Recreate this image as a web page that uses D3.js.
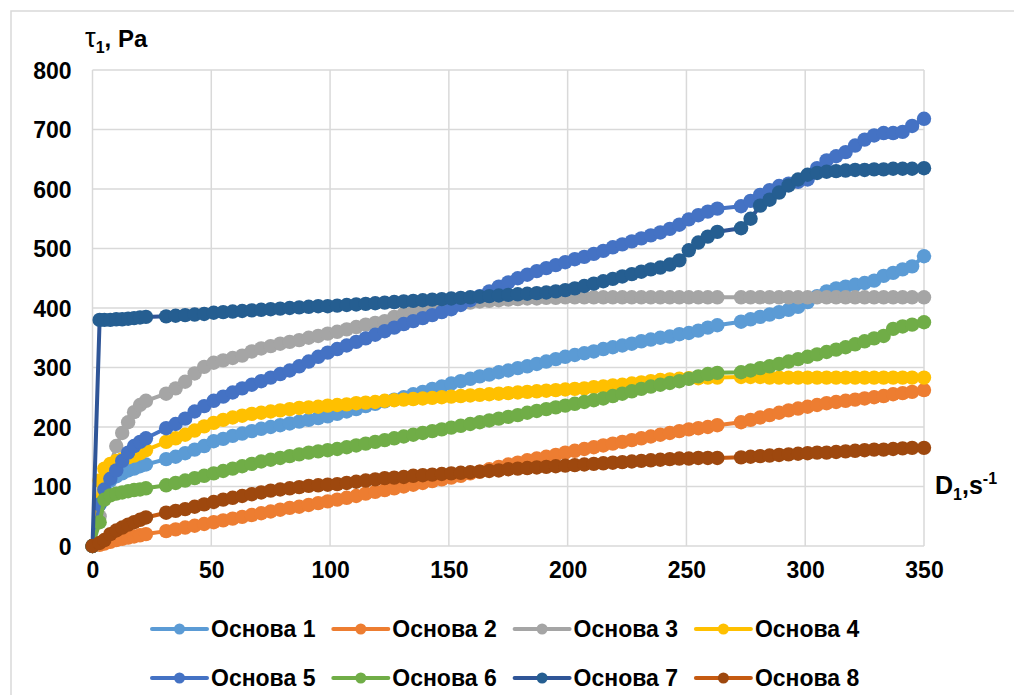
<!DOCTYPE html>
<html>
<head>
<meta charset="utf-8">
<script src="https://cdn.jsdelivr.net/npm/d3@7"></script>
<style>
  html, body { margin: 0; padding: 0; background: #fff; }
  svg { display: block; font-family: "Liberation Sans", Arial, sans-serif; }
</style>
</head>
<body>
<svg id="chart" width="1014" height="695"></svg>
<script>
// ---- DATA ----
const shearRate = [
  0, 3, 5, 7.5, 10, 12.5, 15, 17.5, 20, 22.5,
  31, 35, 39, 43, 47, 51, 55, 59, 63, 67,
  71, 75, 79, 83, 87, 91, 95, 99, 103, 107,
  111, 115, 119, 123, 127, 131, 135, 139, 143, 147,
  151, 155, 159, 163, 167, 171, 175, 179, 183, 187,
  191, 195, 199, 203, 207, 211, 215, 219, 223, 227,
  231, 235, 239, 243, 247, 251, 255, 259, 263,
  273, 277, 281, 285, 289, 293, 297, 301, 305, 309,
  313, 317, 321, 325, 329, 333, 337, 341, 345, 350
];

const seriesNames = ["Основа 1", "Основа 2", "Основа 3", "Основа 4", "Основа 5", "Основа 6", "Основа 7", "Основа 8"];

const osnova1 = [
  0, 70, 100, 110, 117, 122, 127, 130, 134, 137,
  146, 150, 156, 162, 168, 176, 180, 185, 189, 193,
  197, 200, 203, 206, 209, 212, 215, 218, 222, 226,
  230, 235, 239, 243, 246, 250, 255, 259, 264, 268,
  273, 277, 281, 285, 288, 292, 295, 299, 302, 306,
  310, 314, 318, 321, 324, 327, 331, 334, 337, 340,
  344, 347, 350, 352, 356, 358, 362, 367, 371,
  377, 381, 385, 389, 393, 397, 402, 410, 420, 428,
  433, 436, 439, 442, 446, 454, 459, 465, 470, 487
];
const osnova2 = [
  0, 2, 4, 7, 10, 12, 14, 16, 18, 20,
  25, 28, 31, 34, 37, 40, 43, 46, 49, 52,
  55, 58, 61, 64, 66, 69, 72, 75, 78, 81,
  84, 88, 91, 94, 97, 100, 103, 106, 109, 112,
  115, 118, 122, 125, 129, 133, 137, 140, 144, 147,
  150, 153, 157, 160, 163, 166, 169, 172, 175, 178,
  181, 184, 187, 190, 193, 196, 198, 200, 203,
  208, 212, 216, 220, 224, 228, 231, 234, 237, 240,
  242, 244, 246, 248, 250, 252, 255, 257, 259, 262
];
const osnova3 = [
  0, 50, 90, 135, 168, 190, 208, 225, 237, 244,
  256, 265, 276, 290, 301, 308, 312, 316, 320, 327,
  332, 336, 340, 343, 346, 350, 353, 357, 360, 364,
  368, 372, 375, 378, 385, 390, 393, 396, 399, 402,
  405, 407, 409, 411, 412, 413, 414, 415, 416, 416,
  417, 417, 418, 418, 418, 418, 418, 418, 418, 418,
  418, 418, 418, 418, 418, 418, 418, 418, 418,
  418, 418, 418, 418, 418, 418, 418, 418, 418, 418,
  418, 418, 418, 418, 418, 418, 418, 418, 418, 418
];
const osnova4 = [
  0, 110, 130, 138, 143, 146, 149, 152, 156, 161,
  175, 181, 187, 194, 201, 207, 212, 216, 219, 222,
  224, 226, 228, 230, 232, 233, 234, 236, 237, 238,
  240, 241, 242, 244, 245, 246, 247, 248, 249, 250,
  251, 252, 253, 254, 255, 256, 257, 258, 259, 260,
  261, 262, 263, 264, 265, 267, 268, 270, 271, 273,
  275, 277, 279, 280, 281, 282, 282, 283, 283,
  284, 284, 284, 283, 283, 283, 283, 283, 283, 283,
  283, 283, 283, 283, 283, 283, 283, 283, 283, 283
];
const osnova5 = [
  0, 70, 95, 113, 127, 143, 157, 168, 175, 181,
  198, 205, 214, 226, 235, 244, 251, 258, 265, 271,
  277, 283, 289, 295, 302, 310, 318, 325, 331, 337,
  343, 349, 355, 361, 367, 373, 378, 383, 388, 393,
  398, 405, 413, 420, 428, 436, 443, 450, 456, 462,
  467, 472, 477, 482, 486, 491, 496, 502, 507, 512,
  517, 522, 527, 533, 540, 549, 556, 562, 567,
  571, 580, 590, 598, 605, 609, 612, 616, 635, 648,
  655, 662, 673, 683, 690, 694, 694, 696, 706, 718
];
const osnova6 = [
  0, 40, 78, 85, 88, 90, 92, 94, 95, 97,
  102, 106, 110, 114, 118, 122, 126, 130, 134, 138,
  142, 145, 148, 151, 154, 157, 159, 161, 163, 166,
  169, 172, 175, 178, 181, 184, 187, 190, 193, 196,
  199, 202, 205, 208, 211, 214, 217, 220, 224, 227,
  230, 233, 236, 239, 242, 245, 248, 252, 256, 260,
  264, 268, 271, 274, 277, 281, 285, 289, 291,
  292, 295, 299, 302, 306, 310, 314, 318, 322, 326,
  330, 334, 339, 344, 349, 353, 365, 369, 372, 376
];
const osnova7 = [
  0, 380, 380, 380, 381, 381, 382, 383, 384, 385,
  386, 387, 388, 389, 390, 392, 393, 394, 395, 396,
  397, 398, 399, 400, 401, 402, 403, 403, 404, 405,
  406, 407, 408, 409, 410, 411, 412, 413, 414, 415,
  416, 417, 418, 419, 420, 421, 422, 423, 424, 425,
  426, 428, 430, 433, 437, 441, 445, 449, 453, 457,
  461, 465, 468, 473, 480, 497, 510, 520, 528,
  534, 550, 572, 582, 594, 606, 616, 624, 627, 629,
  630, 631, 632, 632, 633, 633, 634, 634, 634, 635
];
const osnova8 = [
  0, 5, 10, 20, 26, 31, 36, 40, 44, 48,
  56, 59, 62, 66, 70, 74, 78, 81, 84, 87,
  90, 93, 95, 97, 99, 101, 102, 103, 104, 106,
  108, 110, 112, 114, 115, 116, 118, 119, 120, 121,
  122, 123, 124, 125, 126, 127, 129, 130, 131, 132,
  133, 134, 135, 136, 137, 138, 139, 140, 141, 142,
  143, 144, 145, 146, 147, 147, 148, 148, 148,
  149, 150, 151, 152, 153, 154, 155, 156, 157, 157,
  158, 159, 160, 161, 162, 162, 163, 164, 165, 165
];

const xTicks = [0, 50, 100, 150, 200, 250, 300, 350];
const yTicks = [0, 100, 200, 300, 400, 500, 600, 700, 800];

// ---- STYLES ----
const lineColors   = ["#5B9BD5", "#ED7D31", "#A5A5A5", "#FFC000", "#4472C4", "#70AD47", "#2F5597", "#C55A11"];
const markerColors = ["#5B9BD5", "#ED7D31", "#A5A5A5", "#FFC000", "#4472C4", "#70AD47", "#255E91", "#9E480E"];
const allValues = [osnova1, osnova2, osnova3, osnova4, osnova5, osnova6, osnova7, osnova8];

const svg = d3.select("#chart");

// outer frame
svg.append("rect").attr("x", 11).attr("y", 11).attr("width", 1020).attr("height", 700)
  .attr("fill", "#fff").attr("stroke", "#D9D9D9").attr("stroke-width", 1.5);

const x = d3.scaleLinear().domain([0, 350]).range([92.5, 924]);
const y = d3.scaleLinear().domain([0, 800]).range([546, 70]);

// gridlines
const grid = svg.append("g");
grid.selectAll("line.v").data(xTicks).join("line")
  .attr("x1", d => x(d)).attr("x2", d => x(d)).attr("y1", y(0)).attr("y2", y(800))
  .attr("stroke", "#D9D9D9").attr("stroke-width", 1.5);
grid.selectAll("line.h").data(yTicks).join("line")
  .attr("x1", x(0)).attr("x2", x(350)).attr("y1", d => y(d)).attr("y2", d => y(d))
  .attr("stroke", "#D9D9D9").attr("stroke-width", 1.5);

// axes (labels only)
const xAxis = d3.axisBottom(x).tickValues(xTicks).tickSize(0).tickPadding(0);
const gx = svg.append("g").attr("transform", `translate(0,${y(0) + 16})`).call(xAxis);
gx.select(".domain").remove();
gx.selectAll("text").attr("font-size", 23).attr("font-weight", "bold").attr("fill", "#000")
  .attr("font-family", "Liberation Sans, Arial, sans-serif").attr("dy", "0.71em");

const yAxis = d3.axisLeft(y).tickValues(yTicks).tickSize(0).tickPadding(0);
const gy = svg.append("g").attr("transform", `translate(${x(0) - 21},0)`).call(yAxis);
gy.select(".domain").remove();
gy.selectAll("text").attr("font-size", 23).attr("font-weight", "bold").attr("fill", "#000")
  .attr("font-family", "Liberation Sans, Arial, sans-serif").attr("dy", "0.36em");

// series
const line = d3.line().x(d => x(d[0])).y(d => y(d[1]));
allValues.forEach((vals, i) => {
  const pts = shearRate.map((sx, k) => [sx, vals[k]]);
  const g = svg.append("g");
  g.append("path").datum(pts).attr("d", line).attr("fill", "none")
    .attr("stroke", lineColors[i]).attr("stroke-width", 4).attr("stroke-linejoin", "round");
  g.selectAll("circle").data(pts).join("circle")
    .attr("cx", d => x(d[0])).attr("cy", d => y(d[1])).attr("r", 7.2)
    .attr("fill", markerColors[i]);
});

// axis titles
const yt = svg.append("text").attr("x", 85).attr("y", 47).attr("font-size", 24).attr("font-weight", "bold");
yt.append("tspan").text("τ").attr("font-weight", "normal").attr("font-size", 27);
yt.append("tspan").text("1").attr("font-size", 16).attr("dy", 6);
yt.append("tspan").text(", Pa").attr("dy", -6);

const xt = svg.append("text").attr("x", 935).attr("y", 494).attr("font-size", 25).attr("font-weight", "bold");
xt.append("tspan").text("D");
xt.append("tspan").text("1").attr("font-size", 16).attr("dy", 6);
xt.append("tspan").text(",s").attr("dy", -6);
xt.append("tspan").text("-1").attr("font-size", 16).attr("dy", -10);

// legend
const legend = svg.append("g");
seriesNames.forEach((name, i) => {
  const col = i % 4, row = Math.floor(i / 4);
  const lx = 152 + col * 181.3, ly = 629 + row * 49;
  const g = legend.append("g").attr("transform", `translate(${lx},${ly})`);
  g.append("line").attr("x1", 0).attr("x2", 55).attr("y1", 0).attr("y2", 0)
    .attr("stroke", lineColors[i]).attr("stroke-width", 4).attr("stroke-linecap", "round");
  g.append("circle").attr("cx", 27.5).attr("cy", 0).attr("r", 5.5).attr("fill", markerColors[i]);
  g.append("text").attr("x", 59).attr("y", 0).attr("dy", "0.36em")
    .attr("font-size", 23).attr("font-weight", "bold").text(name);
});
</script>
</body>
</html>
